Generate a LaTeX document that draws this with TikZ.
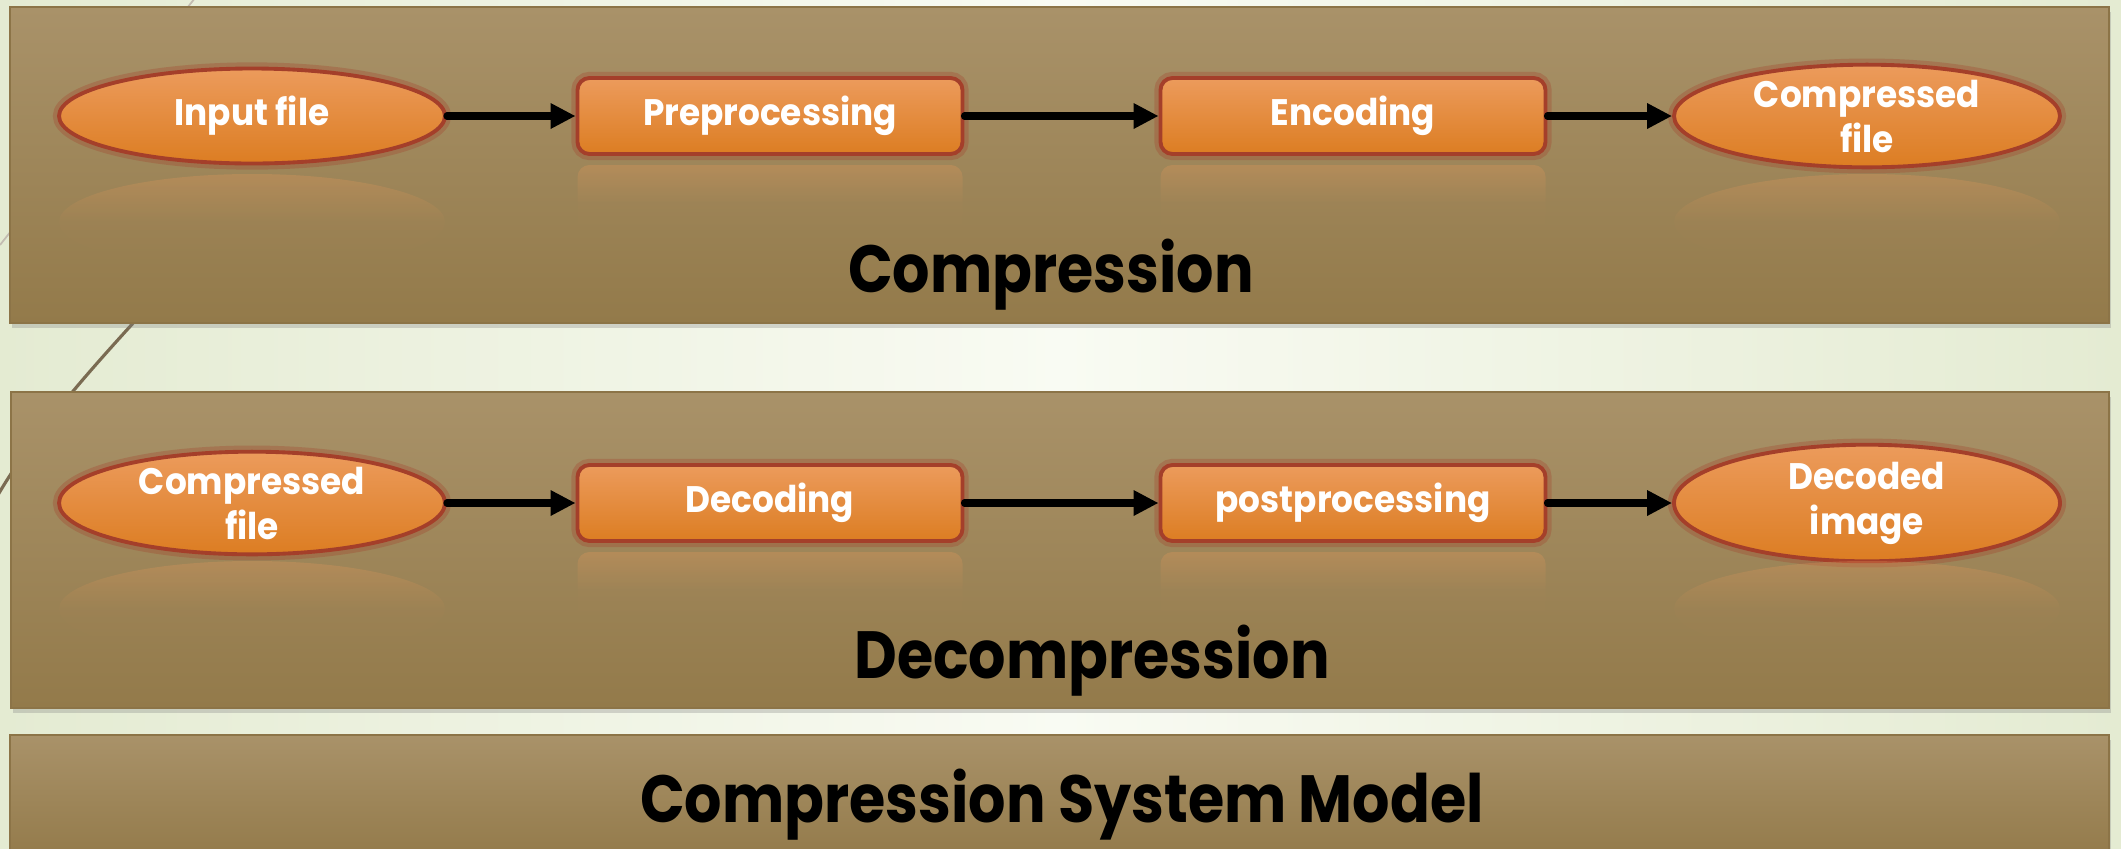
\documentclass[tikz,border=0pt]{standalone}
\usepackage{fontspec}
\setmainfont{Poppins}
\newfontfamily\nodefont{Poppins}[FakeStretch=0.93]
\newfontfamily\titlefont{Poppins}[FakeStretch=0.88]
\usetikzlibrary{arrows.meta,shapes.geometric,shadows,fadings}
\definecolor{bgside}{HTML}{E4EBD2}
\definecolor{bgmid}{HTML}{F9FBF3}
\definecolor{paneltop}{HTML}{A99269}
\definecolor{panelbot}{HTML}{937A4A}
\definecolor{paneledge}{HTML}{8C7447}
\definecolor{orangetop}{HTML}{EC9B5C}
\definecolor{orangebot}{HTML}{DC7D22}
\definecolor{rimred}{HTML}{A43F2A}
\definecolor{decoline}{HTML}{7A6B52}
\tikzfading[name=fade down, top color=transparent!72, bottom color=transparent!100, middle color=transparent!97]

\begin{document}
\begin{tikzpicture}[
    node distance=5.18cm,
    >={Triangle[length=0.25cm,width=0.24cm]},
    panel/.style={top color=paneltop, bottom color=panelbot, draw=paneledge, line width=0.6pt,
      drop shadow={shadow xshift=0.02cm, shadow yshift=-0.05cm, opacity=0.3}},
    flow/.style={top color=orangetop, bottom color=orangebot, draw=rimred, line width=1.1pt,
      preaction={draw=rimred, line width=3.5pt, opacity=0.3},
      text=white, font=\nodefont\bfseries\fontsize{10.5}{12.8}\selectfont, align=center, inner sep=0pt},
    io/.style={flow, ellipse, minimum width=3.86cm, minimum height=0.95cm},
    stage/.style={flow, rounded corners=0.12cm, minimum width=3.85cm, minimum height=0.76cm},
    mirror/.style={fill=orangetop, path fading=fade down},
    flowarrow/.style={->, line width=2pt, line cap=round},
    title/.style={font=\titlefont\bfseries\fontsize{19}{19}\selectfont, anchor=base}
  ]
  \useasboundingbox (0,0) rectangle (21.21,-8.48);
  \shade[left color=bgside, right color=bgside, middle color=bgmid] (0,0) rectangle (21.21,-8.48);
  \draw[decoline!45, line width=0.5pt] (1.95,0.02) -- (0,-2.45);
  \draw[decoline, line width=0.9pt] (1.45,-3.1) .. controls (0.95,-3.65) and (0.35,-4.3) .. (-0.05,-5.0);

  % panels
  \draw[panel] (0.10,-0.07) rectangle (21.09,-3.23);
  \draw[panel] (0.11,-3.92) rectangle (21.09,-7.08);
  \draw[panel] (0.10,-7.35) rectangle (21.09,-8.60);

  % compression
  \node[io] (1) at (2.52,-1.16) {Input file};
  \node[stage,right of=1] (2) {Preprocessing};
  \node[stage,right of=2,xshift=0.65cm] (3) {Encoding};
  \node[io,right of=3,xshift=-0.04cm] (4) {Compressed\\file};

  % decompression
  \node[io,below of=1,yshift=1.31cm] (5) {Compressed\\file};
  \node[stage,right of=5] (6) {Decoding};
  \node[stage,right of=6,xshift=0.65cm] (7) {postprocessing};
  \node[io,right of=7,xshift=-0.04cm] (8) {Decoded\\image};

  % reflections
  \foreach \n in {1,4,5,8}
    \fill[mirror] ([yshift=-1.06cm]\n.center) ellipse (1.93cm and 0.48cm);
  \foreach \n in {2,3,6,7}
    \fill[mirror,rounded corners=0.12cm] ([xshift=-1.925cm,yshift=-0.49cm]\n.center) rectangle ++(3.85cm,-0.76cm);

  \draw[flowarrow] (1) -- (2);
  \draw[flowarrow] (2) -- (3);
  \draw[flowarrow] (3) -- (4);
  \draw[flowarrow] (5) -- (6);
  \draw[flowarrow] (6) -- (7);
  \draw[flowarrow] (7) -- (8);

  \node[title] (9) at (10.51,-2.92) {Compression};
  \node[title] (10) at (10.92,-6.78) {Decompression};
  \node[title] (11) at (10.62,-8.22) {Compression System Model};
\end{tikzpicture}
\end{document}
